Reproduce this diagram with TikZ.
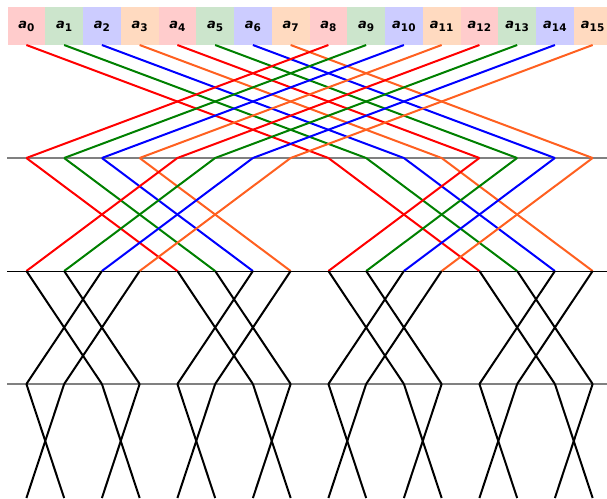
\documentclass[tikz,border=0pt]{standalone}
\usepackage{fontspec}
\newfontfamily\labelfont{DejaVu Sans}
\definecolor{cellred}{HTML}{FFCCCC}
\definecolor{cellgreen}{HTML}{CCE5CC}
\definecolor{cellblue}{HTML}{CCCCFF}
\definecolor{cellorange}{HTML}{FFDAC0}
\definecolor{wirered}{HTML}{FF0000}
\definecolor{wiregreen}{HTML}{008000}
\definecolor{wireblue}{HTML}{0000FF}
\definecolor{wireorange}{HTML}{FF6020}
\newcommand{\cellname}[1]{{\labelfont\bfseries\fontsize{13}{13}\selectfont\itshape a}\raisebox{-3pt}{\labelfont\bfseries\fontsize{10.5}{10.5}\selectfont #1}}
\begin{document}
\begin{tikzpicture}[x=1pt,y=-1pt,
    cell/.style={minimum width=37.75pt,minimum height=38pt,inner sep=0pt},
    wire/.style={line width=2pt},
    level/.style={line width=1.5pt,gray}]
    \useasboundingbox (0,0) rectangle (607,498);
    \clip (0,0) rectangle (607,498);
    % level lines
    \coordinate (l1w) at (7,158);  \coordinate (l1e) at (607,158);
    \coordinate (l2w) at (7,271);  \coordinate (l2e) at (607,271);
    \coordinate (l3w) at (7,384);  \coordinate (l3e) at (607,384);
    \draw[level] (l1w) -- (l1e);
    \draw[line width=1pt,black] (l2w) -- (l2e);
    \draw[level] (l3w) -- (l3e);
    % vertices of every level
    \foreach \k in {0,...,15} {
        \coordinate (v0-\k) at (26.4+37.75*\k,45);
        \coordinate (v1-\k) at (26.4+37.75*\k,158);
        \coordinate (v2-\k) at (26.4+37.75*\k,271);
        \coordinate (v3-\k) at (26.4+37.75*\k,384);
        \coordinate (v4-\k) at (26.4+37.75*\k,498);
    }
    % cells and coloured wires
    \foreach \g in {0,...,3} {
        \foreach \c [count=\j from 0] in {red,green,blue,orange} {
            \pgfmathtruncatemacro\k{4*\g+\j}
            \node[cell,fill=cell\c] (c\k) at (26.4+37.75*\k,26) {\cellname{\k}};
            \pgfmathtruncatemacro\p{mod(\k+8,16)}
            \draw[wire,wire\c] (v0-\k) -- (v1-\p);
            \pgfmathtruncatemacro\q{mod(\k,8)<4 ? \k+4 : \k-4}
            \draw[wire,wire\c] (v1-\k) -- (v2-\q);
        }
    }
    % black wires
    \foreach \k in {0,...,15} {
        \pgfmathtruncatemacro\p{mod(\k,4)<2 ? \k+2 : \k-2}
        \draw[wire] (v2-\k) -- (v3-\p);
        \pgfmathtruncatemacro\q{mod(\k,2)<1 ? \k+1 : \k-1}
        \draw[wire] (v3-\k) -- (v4-\q);
    }
\end{tikzpicture}
\end{document}
